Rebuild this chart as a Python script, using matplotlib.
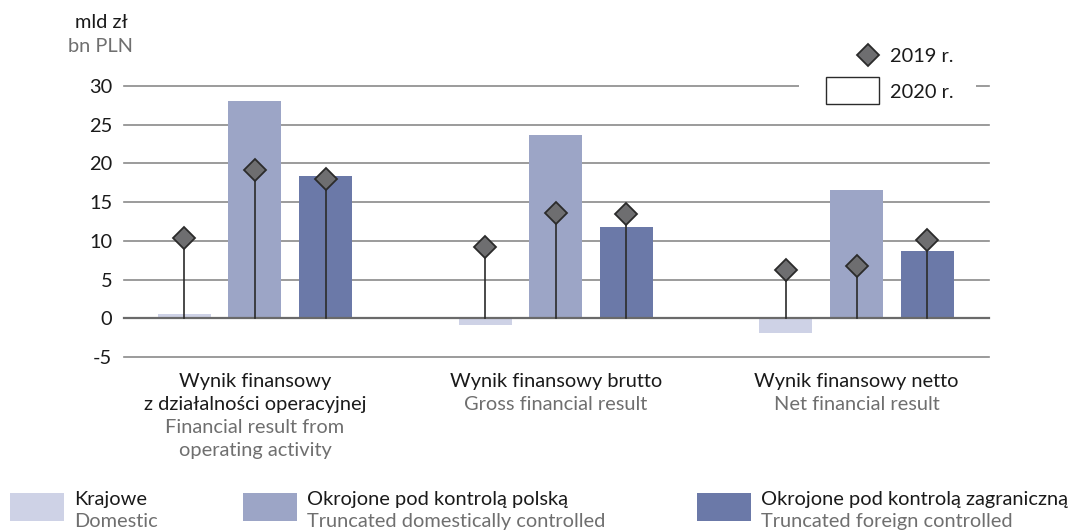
import matplotlib
matplotlib.use("Agg")
import matplotlib.pyplot as plt
from matplotlib.patches import Rectangle
from matplotlib.lines import Line2D
from matplotlib.transforms import blended_transform_factory
import numpy as np

plt.rcParams['font.family'] = ['Lato', 'DejaVu Sans']

# ---- data ----
categories_pl = [["Wynik finansowy", "z działalności operacyjnej"], ["Wynik finansowy brutto"], ["Wynik finansowy netto"]]
categories_en = [["Financial result from", "operating activity"], ["Gross financial result"], ["Net financial result"]]
series_pl = ["Krajowe", "Okrojone pod kontrolą polską", "Okrojone pod kontrolą zagraniczną"]
series_en = ["Domestic", "Truncated domestically controlled", "Truncated foreign controlled"]
values_2020 = {
    "Krajowe": [0.6, -0.85, -1.95],
    "Polska": [28.1, 23.7, 16.6],
    "Zagraniczna": [18.4, 11.8, 8.7],
}
values_2019 = {
    "Krajowe": [10.35, 9.15, 6.3],
    "Polska": [19.1, 13.6, 6.8],
    "Zagraniczna": [18.0, 13.5, 10.1],
}
yticks = [-5, 0, 5, 10, 15, 20, 25, 30]

colors = ["#ced2e6", "#9ca5c6", "#6b79a8"]
gray_txt = "#6f6f6f"
FS = 14.4

W, H = 1072, 530
fig = plt.figure(figsize=(W / 100, H / 100), dpi=100)
ax = fig.add_axes([124 / W, 1 - 357 / H, (989 - 124) / W, (357 - 86) / H])

x = np.arange(len(categories_pl))
bw = 0.176
off = 0.235
keys = list(values_2020.keys())
for i, k in enumerate(keys):
    pos = x + (i - 1) * off
    ax.bar(pos, values_2020[k], width=bw, color=colors[i], zorder=2)
    for px_, v in zip(pos, values_2019[k]):
        ax.plot([px_, px_], [0, v], color="#2b2b2b", lw=1.2, zorder=3)
    ax.plot(pos, values_2019[k], linestyle="none", marker="D", markersize=11.5,
            markerfacecolor="#6e6e70", markeredgecolor="#2b2b2b", markeredgewidth=1.3, zorder=4)

ax.set_xlim(-0.435, 2.44)
ax.set_ylim(-5, 30)
ax.set_yticks(yticks)
ax.set_yticklabels([str(t) for t in yticks], fontsize=FS, color="#1a1a1a")
ax.tick_params(axis="y", length=0, pad=8.5)
ax.set_xticks([])
for s in ax.spines.values():
    s.set_visible(False)
for t in yticks:
    ax.axhline(t, color="#8a8a8a" if t != 0 else "#6a6a6a", lw=1.2 if t != 0 else 1.6,
               zorder=1 if t != 0 else 2.5, clip_on=False)

# category labels
trans = blended_transform_factory(ax.transData, fig.transFigure)
line_base = [387, 410, 433, 456]
for xi, pl, en in zip(x, categories_pl, categories_en):
    lines = [(s, "#1a1a1a") for s in pl] + [(s, gray_txt) for s in en]
    for (s, c), yy in zip(lines, line_base):
        ax.text(xi, 1 - yy / H, s, ha="center", va="baseline", fontsize=FS, color=c, transform=trans)

# unit labels
fig.text(101 / W, 1 - 28 / H, "mld zł", ha="center", va="baseline", fontsize=FS, color="#1a1a1a")
fig.text(101 / W, 1 - 52 / H, "bn PLN", ha="center", va="baseline", fontsize=FS, color=gray_txt)

# top-right legend (covers gridline)
fig.patches.append(Rectangle((799 / W, 1 - 100 / H), (976 - 799) / W, 60 / H,
                             transform=fig.transFigure, facecolor="white", edgecolor="none", zorder=5))
fig.lines.append(Line2D([868 / W], [1 - 55 / H], transform=fig.transFigure, marker="D", markersize=11.5,
                        markerfacecolor="#6e6e70", markeredgecolor="#2b2b2b", markeredgewidth=1.3,
                        linestyle="none", zorder=6))
fig.text(890 / W, 1 - 62 / H, "2019 r.", ha="left", va="baseline", fontsize=FS, color="#1a1a1a", zorder=6)
fig.patches.append(Rectangle((826 / W, 1 - 104 / H), 53 / W, 27 / H, transform=fig.transFigure,
                             facecolor="white", edgecolor="#2b2b2b", lw=1.0, zorder=6))
fig.text(890 / W, 1 - 98 / H, "2020 r.", ha="left", va="baseline", fontsize=FS, color="#1a1a1a", zorder=6)

# bottom legend
leg_sq_x = [10, 243, 697]
for i in range(3):
    x0 = leg_sq_x[i]
    fig.patches.append(Rectangle((x0 / W, 1 - 521 / H), 54 / W, 28 / H, transform=fig.transFigure,
                                 facecolor=colors[i], edgecolor="none"))
    fig.text((x0 + 64) / W, 1 - 505 / H, series_pl[i], ha="left", va="baseline", fontsize=FS, color="#1a1a1a")
    fig.text((x0 + 64) / W, 1 - 527 / H, series_en[i], ha="left", va="baseline", fontsize=FS, color=gray_txt)

fig.savefig("out.png", dpi=100)
